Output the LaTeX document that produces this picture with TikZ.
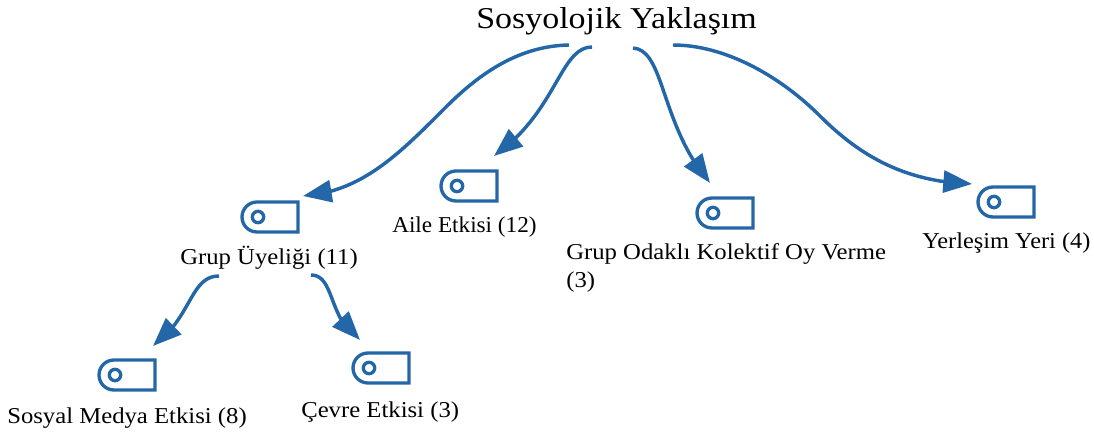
\documentclass[tikz,border=0pt]{standalone}
\usepackage{fontspec}
\setmainfont{Liberation Serif}
\newfontfamily\fontbase[FakeStretch=1.09]{Liberation Serif}
\newfontfamily\fontyer[FakeStretch=1.074]{Liberation Serif}
\newfontfamily\fontaile[FakeStretch=1.024]{Liberation Serif}
\newfontfamily\fonttitle[FakeStretch=1.122]{Liberation Serif}
\usetikzlibrary{arrows.meta,bending}
\definecolor{arrowblue}{HTML}{2467A8}
\tikzset{
  conn/.style={draw=arrowblue,line width=2.6pt,-{Triangle[length=21.5pt,width=16.5pt,flex=1]}},
  iconline/.style={draw=arrowblue,line width=2.5pt},
  iconbox/.style={minimum width=42pt,minimum height=22.5pt,inner sep=0pt},
  lab/.style={font=\fontbase\fontsize{17}{20}\selectfont,inner sep=0pt,anchor=base west,text=black},
  pics/tagicon/.style={code={
    \draw[iconline] (28,-15) -- (28,15) -- (-13,15) arc[start angle=90,end angle=270,radius=15] -- cycle;
    \draw[iconline] (-12,0) circle[radius=5.7];
  }}
}
\begin{document}
\begin{tikzpicture}[x=0.75pt,y=-0.75pt]
\useasboundingbox (0,0) rectangle (1094,434);
\node[font=\fonttitle\fontsize{22.7}{26}\selectfont,inner sep=0pt,anchor=base west] (root) at (476,29) {Sosyolojik Yaklaşım};
% icons
\node[iconbox] (grup) at (270,217) {}; \pic at (270,217) {tagicon};
\node[iconbox] (aile) at (469,186) {}; \pic at (469,186) {tagicon};
\node[iconbox] (odak) at (725,213) {}; \pic at (725,213) {tagicon};
\node[iconbox] (yer) at (1006,202) {}; \pic at (1006,202) {tagicon};
\node[iconbox] (medya) at (127,375) {}; \pic at (127,375) {tagicon};
\node[iconbox] (cevre) at (381,368) {}; \pic at (381,368) {tagicon};
% labels
\node[lab] (lgrup) at (180,265) {Grup Üyeliği (11)};
\node[lab,font=\fontaile\fontsize{17}{20}\selectfont] (laile) at (392,233) {Aile Etkisi (12)};
\node[lab] (lodak) at (566,260) {Grup Odaklı Kolektif Oy Verme};
\node[lab] (lodak2) at (566,287) {(3)};
\node[lab,font=\fontyer\fontsize{17}{20}\selectfont] (lyer) at (922,249) {Yerleşim Yeri (4)};
\node[lab] (lmedya) at (7,423) {Sosyal Medya Etkisi (8)};
\node[lab] (lcevre) at (301,417) {Çevre Etkisi (3)};
% connector ends
\coordinate (s1) at (569,45);
\coordinate (s2) at (592,47);
\coordinate (s3) at (633,48);
\coordinate (s4) at (673,45);
\coordinate (s5) at (219,276);
\coordinate (s6) at (311,275);
\coordinate (t1) at (303,196);
\coordinate (t2) at (494,156);
\coordinate (t3) at (710,183);
\coordinate (t4) at (972,184);
\coordinate (t5) at (153,346);
\coordinate (t6) at (360,340);
\coordinate (m1) at (445,108);
\coordinate (m4) at (820,116);
\draw[conn] (s1) .. controls (515,46) and (475,78) .. (m1) .. controls (400,153) and (362,192) .. (t1);
\draw[conn] (s2) .. controls (560,47) and (557,112) .. (t2);
\draw[conn] (s3) .. controls (665,50) and (660,125) .. (t3);
\draw[conn] (s4) .. controls (725,45) and (780,76) .. (m4) .. controls (860,156) and (905,182) .. (t4);
\draw[conn] (s5) .. controls (190,276) and (192,318) .. (t5);
\draw[conn] (s6) .. controls (335,275) and (328,320) .. (t6);
\end{tikzpicture}
\end{document}
